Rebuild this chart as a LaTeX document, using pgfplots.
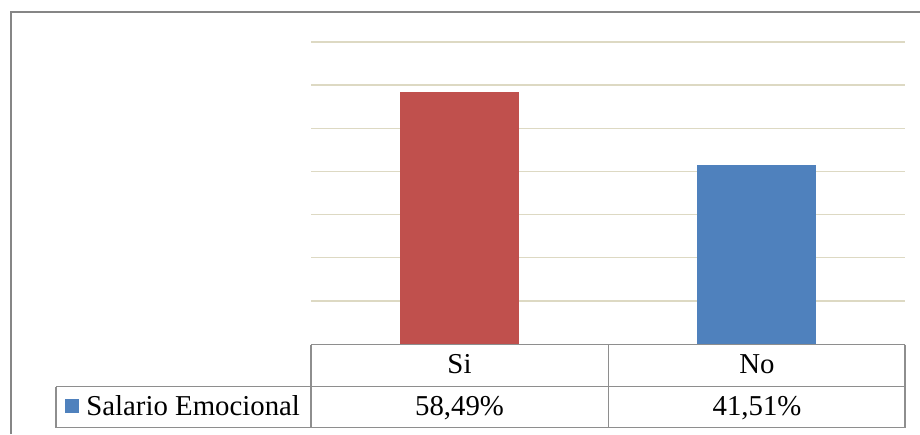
\documentclass[border=0pt]{standalone}
\usepackage{pgfplots}
\pgfplotsset{compat=1.18}
\usepackage{fontspec}
\setmainfont{Liberation Serif}
\definecolor{barred}{HTML}{C0504D}
\definecolor{barblue}{HTML}{4F81BD}
\definecolor{gridc}{HTML}{DDD9C3}
\definecolor{framec}{HTML}{868686}
\definecolor{tablec}{HTML}{8E8E8E}

\begin{document}
% picture laid out in pixel units of the reference (1px = 0.5pt), y counted upwards
\begin{tikzpicture}[x=0.5pt, y=0.5pt]
\useasboundingbox (0,0) rectangle (920,434);
\draw[framec, line width=1pt] (10.5,0) -- (10.5,421.5) -- (920,421.5);

\begin{axis}[
  at={(155.5pt,45pt)}, anchor=south west,
  scale only axis,
  width=297pt, height=151pt,
  xmin=-0.5, xmax=1.5,
  ymin=0, ymax=70,
  ytick={10,20,...,70},
  yticklabels={},
  xtick=\empty,
  ymajorgrids,
  grid style={gridc, line width=0.75pt},
  axis line style={draw=none},
  tick style={draw=none},
  ybar, bar width=59.5pt, bar shift=0pt,
]
\addplot[fill=barred, draw=none] coordinates {(0,58.49)};
\addplot[fill=barblue, draw=none] coordinates {(1,41.51)};
\end{axis}

% data table under the axis
\begin{scope}[tablec, line width=0.75pt]
  \draw (311,89.5) -- (905,89.5);
  \draw (56,47.5) -- (905,47.5);
  \draw (56,6.5) -- (905,6.5);
  \draw (311,89.5) -- (311,6.5);
  \draw (608.5,89.5) -- (608.5,6.5);
  \draw (905,89.5) -- (905,6.5);
  \draw (56,47.5) -- (56,6.5);
\end{scope}
\fill[barblue] (65,21) rectangle (79,35);
\begin{scope}[font=\fontsize{14.4}{17}\selectfont]
  \node[anchor=base west, inner sep=0pt] at (86,19) {Salario Emocional};
  \node[anchor=base, inner sep=0pt] at (459.5,61) {Si};
  \node[anchor=base, inner sep=0pt] at (757,61) {No};
  \node[anchor=base, inner sep=0pt] at (459.5,19) {58,49\%};
  \node[anchor=base, inner sep=0pt] at (757,19) {41,51\%};
\end{scope}
\end{tikzpicture}
\end{document}
